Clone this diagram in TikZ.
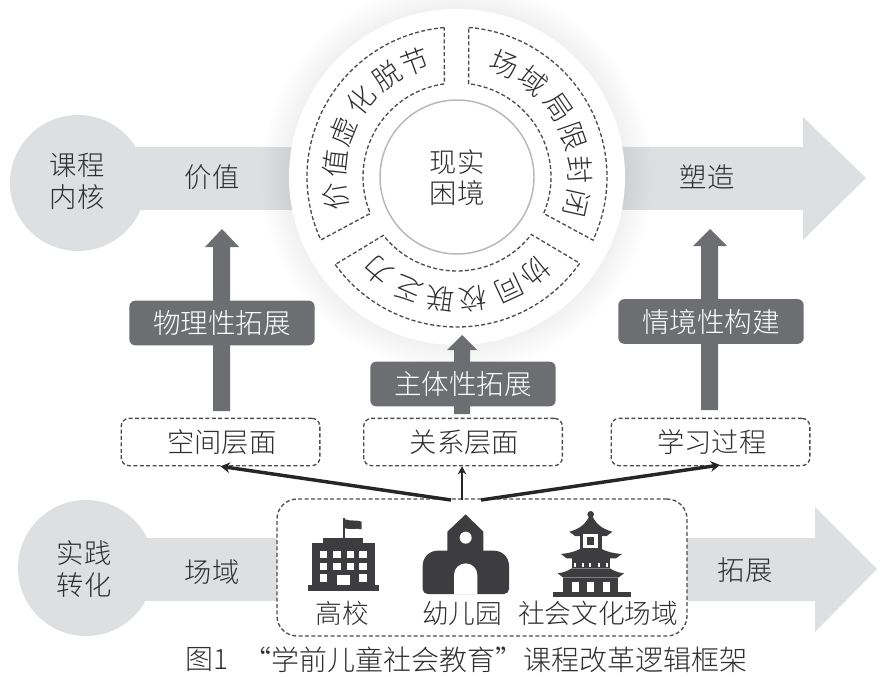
\documentclass[tikz,border=0pt]{standalone}
\usepackage{fontspec}
\setmainfont{Noto Sans CJK SC Light}
\usetikzlibrary{arrows.meta}
\definecolor{band}{HTML}{DEDFE0}
\definecolor{boxgray}{HTML}{6D6E71}
\definecolor{ink}{HTML}{2E2E30}
\definecolor{icon}{HTML}{3D3D3F}
\tikzset{
  x=.75pt,y=-.75pt,
  lab/.style={font=\fontsize{20.5}{24}\selectfont,text=ink,inner sep=0pt,align=center},
  capt/.style={font=\fontsize{20}{23}\selectfont,text=ink,inner sep=0pt},
  figcap/.style={font=\fontsize{21}{25}\selectfont,text=ink,inner sep=0pt},
  rchar/.style={font=\fontsize{21}{24}\selectfont,text=ink,inner sep=0pt},
  graybox/.style={fill=boxgray,rounded corners=4.5pt,inner sep=0pt,text=white,minimum height=33.5pt,minimum width=139pt,font=\fontsize{20.7}{24}\selectfont},
  dashbox/.style={draw=ink!85,line width=1pt,dash pattern=on 3pt off 1.8pt,rounded corners=6pt,inner sep=0pt,minimum width=149pt,minimum height=35.5pt,font=\fontsize{20.5}{24}\selectfont,text=ink},
  ringdash/.style={draw=ink!85,line width=1pt,dash pattern=on 3pt off 1.8pt},
  uparrow/.style={fill=boxgray,draw=none},
  linkline/.style={draw=black!85,line width=2.6pt,-{Stealth[length=7pt,width=8pt]}},
  thinlink/.style={draw=black!85,line width=1.8pt,-{Stealth[length=6pt,width=6.5pt]}},
}
\begin{document}
\begin{tikzpicture}
\useasboundingbox (0,0) rectangle (884,677);
% upper band
\fill[band] (78,147) rectangle (300,210);
\fill[band] (78,183) circle[radius=51pt];
\fill[band] (610,147) -- (803,147) -- (803,117) -- (866,178) -- (803,240) -- (803,210) -- (610,210) -- cycle;
% lower band
\fill[band] (86,538) rectangle (277,601);
\fill[band] (86,568) circle[radius=51pt];
\fill[band] (687,538) -- (815,538) -- (815,507) -- (877,569) -- (815,632) -- (815,601) -- (687,601) -- cycle;
% disc with soft shadow
\foreach \r in {168,170,...,196} {\fill[black,opacity=.005] (457,177) circle[radius=\r*.75pt];}
\fill[white] (457,177) circle[radius=126pt];
\begin{scope}[shift={(457,177)}]
  \draw[black!28,line width=1.1pt] (0,0) circle[radius=57.75pt];
  \draw[ringdash] (94.9:112.5pt) arc[start angle=94.9,end angle=204.8,radius=112.5pt] -- (202.8:70.5pt) arc[start angle=202.8,end angle=97.7,radius=70.5pt] -- cycle;
  \draw[ringdash] (85.5:112.5pt) arc[start angle=85.5,end angle=-24.9,radius=112.5pt] -- (-22.8:70.5pt) arc[start angle=-22.8,end angle=82.9,radius=70.5pt] -- cycle;
  \draw[ringdash] (215.7:112.5pt) arc[start angle=215.7,end angle=324.9,radius=112.5pt] -- (322.3:70.5pt) arc[start angle=322.3,end angle=218.4,radius=70.5pt] -- cycle;
  \foreach \a/\c [count=\i] in {189.3/价,173.6/值,158/虚,141.3/化,124.6/脱,109.9/节,67.3/场,51.5/域,34.4/局,19.2/限,3.1/封,-12.5/闭,309.6/协,294.9/同,277.7/校,262.2/联,246.6/乏,229.9/力}
    {\node[rchar,rotate=\a-90] (ring\i) at (\a:92pt) {\c};}
\end{scope}
\node[lab] (core1) at (457,162) {现实};
\node[lab] (core2) at (457,193) {困境};
% band labels
\node[lab] (top1) at (77,165) {课程};
\node[lab] (top2) at (77,197) {内核};
\node[lab] (val) at (212,177) {价值};
\node[lab] (shape) at (707,177) {塑造};
\node[lab] (low1) at (84,553) {实践};
\node[lab] (low2) at (84,585) {转化};
\node[lab] (field) at (212,572) {场域};
\node[lab] (ext) at (745,570) {拓展};
% up arrows
\fill[uparrow] (213,411) -- (213,247) -- (205,247) -- (222,229) -- (239,247) -- (230,247) -- (230,411) -- cycle;
\fill[uparrow] (701,410) -- (701,246) -- (693,246) -- (710,229) -- (727,246) -- (718,246) -- (718,410) -- cycle;
\fill[uparrow] (454,414) -- (454,350) -- (447,350) -- (462,335) -- (477,350) -- (470,350) -- (470,414) -- cycle;
\node[graybox] (gb1) at (222,323) {物理性拓展};
\node[graybox] (gb2) at (463,384) {主体性拓展};
\node[graybox] (gb3) at (711,321.5) {情境性构建};
% dashed boxes
\node[dashbox] (b1) at (220.5,442) {\hspace*{2pt}空间层面};
\node[dashbox] (b2) at (463,442) {\hspace*{2pt}关系层面};
\node[dashbox] (b3) at (710.5,442) {\hspace*{2pt}学习过程};
\node[draw=ink!85,line width=1pt,dash pattern=on 3pt off 1.8pt,rounded corners=15pt,minimum width=307.5pt,minimum height=102.7pt,inner sep=0pt] (hub) at (482,567.5) {};
% connectors
\coordinate (s1) at (451,500);
\coordinate (s2) at (462,500);
\coordinate (s3) at (481,500);
\coordinate (t3) at (720,465);
\draw[linkline] (s1) -- (b1.south);
\draw[thinlink] (s2) -- (s2 |- b2.south);
\draw[linkline] (s3) -- (t3);
% icons
\begin{scope}[shift={(270,480)},scale=1/3,fill=icon]
  % building
  \fill (113,315) rectangle (328,332);
  \fill (127,190) rectangle (315,315);
  \fill (160,175) rectangle (280,190);
  \fill (218,115) rectangle (225,175);
  \fill (225,118) .. controls (245,125) and (255,118) .. (275,125) -- (275,148) .. controls (255,143) and (245,150) .. (225,145) -- cycle;
  \foreach \px in {150,190,230,268} {\foreach \py in {213,248} {\fill[white] (\px,\py) rectangle ++(22,22);}}
  \foreach \px in {150,268} {\fill[white] (\px,283) rectangle ++(22,22);}
  \fill[white] (200,285) rectangle (240,315);
  % kindergarten
  \fill (532,215) -- (532,155) -- (587,103) -- (640,155) -- (640,215) -- cycle;
  \fill (458,257) arc[start angle=180,end angle=90,radius=33.75pt] -- (672,212) arc[start angle=90,end angle=0,radius=33.75pt] -- (717,327) arc[start angle=0,end angle=-90,radius=11.25pt] -- (473,342) arc[start angle=-90,end angle=-180,radius=11.25pt] -- cycle;
  \fill[white] (552,343) -- (552,285) arc[start angle=180,end angle=0,radius=26.25pt] -- (622,343) -- cycle;
  \fill[white] (587,173) circle[radius=13.5pt];
  % temple
  \fill (962,103) circle[radius=7.5pt];
  \fill (957,110) .. controls (945,135) and (925,148) .. (898,155) -- (915,168) -- (1010,168) -- (1027,155) .. controls (1000,148) and (980,135) .. (968,110) -- cycle;
  \fill (930,160) rectangle (995,210);
  \fill[white] (940,162) rectangle (985,205);
  \fill (952,172) rectangle (973,195);
  \fill (930,207) .. controls (915,215) and (895,220) .. (873,222) -- (890,235) -- (1038,235) -- (1056,222) .. controls (1030,220) and (1010,215) .. (995,207) -- cycle;
  \fill (905,235) rectangle (1020,265);
  \foreach \px in {912,935,958,983,1008} {\fill[white] (\px,248) rectangle ++(6,14);}
  \fill (905,265) .. controls (895,272) and (880,278) .. (863,280) -- (880,293) -- (1045,293) -- (1062,280) .. controls (1045,278) and (1030,272) .. (1020,265) -- cycle;
  \fill (880,293) rectangle (1045,337);
  \foreach \px in {905,950,998} {\fill[white] (\px,305) rectangle ++(23,32);}
  \fill (850,337) rectangle (1082,352);
\end{scope}
\node[capt] (i1) at (342,613) {高校};
\node[capt] (i2) at (462,613) {幼儿园};
\node[capt] (i3) at (598,613) {社会文化场域};
\node[figcap,anchor=west] (capA) at (185,660) {图1};
\node[figcap,anchor=east] (capB) at (748,660) {“学前儿童社会教育”课程改革逻辑框架};
\end{tikzpicture}
\end{document}
